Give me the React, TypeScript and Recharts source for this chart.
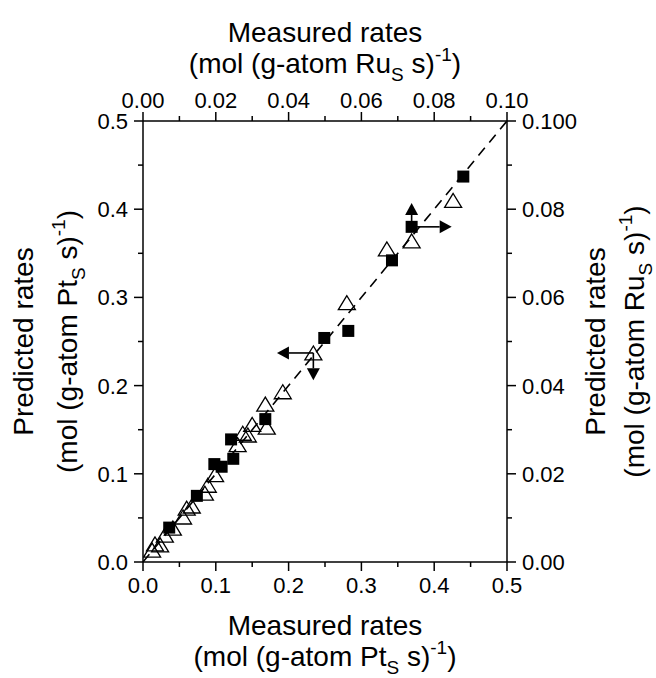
import React from "react";
import { ScatterChart, Scatter, XAxis, YAxis, ReferenceLine } from "recharts";

const W = 656;
const H = 678;
const FONT = "'Liberation Sans', Arial, Helvetica, sans-serif";

// Pt catalysts, filled squares: mol (g-atom Pt_S s)^-1
const ptMeasured = [0.036, 0.074, 0.098, 0.108, 0.124, 0.121, 0.168, 0.249, 0.282, 0.342, 0.369, 0.44];
const ptPredicted = [0.039, 0.075, 0.111, 0.108, 0.117, 0.139, 0.162, 0.254, 0.262, 0.342, 0.38, 0.437];

// Ru catalysts, open triangles: mol (g-atom Ru_S s)^-1
const ruMeasured = [
  0.0025, 0.0033, 0.0047, 0.006, 0.0082, 0.011, 0.012, 0.0134, 0.017, 0.0178, 0.0198, 0.026,
  0.0274, 0.0288, 0.03, 0.0336, 0.034, 0.0384, 0.0468, 0.056, 0.067, 0.0738, 0.0852,
];
const ruPredicted = [
  0.0027, 0.0041, 0.0039, 0.0061, 0.0077, 0.0102, 0.0122, 0.0127, 0.0156, 0.0174, 0.0198, 0.0266,
  0.0292, 0.0288, 0.0312, 0.0358, 0.0306, 0.0386, 0.0474, 0.0588, 0.071, 0.0728, 0.082,
];

// arrows marking points that fall outside the model bounds
const ptArrows = [
  { from: [0.369, 0.38], to: [0.369, 0.407] },
  { from: [0.369, 0.38], to: [0.424, 0.38] },
];
const ruArrows = [
  { from: [0.0468, 0.0474], to: [0.0368, 0.0474] },
  { from: [0.0468, 0.0474], to: [0.0468, 0.0412] },
];

// parity line y = x
const parity = [0, 0.5];

const ptMajor = [0, 0.1, 0.2, 0.3, 0.4, 0.5];
const ptMinor = [0.05, 0.15, 0.25, 0.35, 0.45];
const ptLabels = ["0.0", "0.1", "0.2", "0.3", "0.4", "0.5"];

const ruMajor = [0, 0.02, 0.04, 0.06, 0.08, 0.1];
const ruMinor = [0.01, 0.03, 0.05, 0.07, 0.09];
const ruTopLabels = ["0.00", "0.02", "0.04", "0.06", "0.08", "0.10"];
const ruRightLabels = ["0.00", "0.02", "0.04", "0.06", "0.08", "0.100"];

const ptData = ptMeasured.map((x, i) => ({ x, y: ptPredicted[i] }));
const ruData = ruMeasured.map((x, i) => ({ x, y: ruPredicted[i] }));
const ptTicks = [...ptMajor, ...ptMinor].sort((a, b) => a - b);
const ruTicks = [...ruMajor, ...ruMinor].sort((a, b) => a - b);

type Side = "bottom" | "top" | "left" | "right";

function makeTick(side: Side, majors: number[], labels: string[]) {
  return function Tick(props: any) {
    const { x, y, payload } = props;
    const idx = majors.findIndex((m) => Math.abs(m - payload.value) < 1e-9);
    const len = idx >= 0 ? 9 : 5;
    let line;
    let text = null;
    const tp = { fontFamily: FONT, fontSize: 22, fill: "#000" };
    if (side === "bottom") {
      line = <line x1={x} y1={y} x2={x} y2={y + len} stroke="#000" strokeWidth={1.5} />;
      if (idx >= 0) text = <text x={x} y={y + 31} textAnchor="middle" {...tp}>{labels[idx]}</text>;
    } else if (side === "top") {
      line = <line x1={x} y1={y} x2={x} y2={y - len} stroke="#000" strokeWidth={1.5} />;
      if (idx >= 0) text = <text x={x} y={y - 13} textAnchor="middle" {...tp}>{labels[idx]}</text>;
    } else if (side === "left") {
      line = <line x1={x} y1={y} x2={x - len} y2={y} stroke="#000" strokeWidth={1.5} />;
      if (idx >= 0) text = <text x={x - 15} y={y + 8} textAnchor="end" {...tp}>{labels[idx]}</text>;
    } else {
      line = <line x1={x} y1={y} x2={x + len} y2={y} stroke="#000" strokeWidth={1.5} />;
      if (idx >= 0) text = <text x={x + 15} y={y + 8} textAnchor="start" {...tp}>{labels[idx]}</text>;
    }
    return (
      <g>
        {line}
        {text}
      </g>
    );
  };
}

function TitleLines({ x1, y1, x2, y2, rotate, metal }: any) {
  const tp = { fontFamily: FONT, fontSize: 28, fill: "#000", textAnchor: "middle" as const };
  return (
    <g>
      <text x={x1} y={y1} transform={rotate ? `rotate(-90, ${x1}, ${y1})` : undefined} {...tp}>
        {rotate ? "Predicted rates" : "Measured rates"}
      </text>
      <text x={x2} y={y2} transform={rotate ? `rotate(-90, ${x2}, ${y2})` : undefined} {...tp}>
        {"(mol (g-atom " + metal}
        <tspan dy={8} fontSize={19}>S</tspan>
        <tspan dy={-8}>{" s)"}</tspan>
        <tspan dy={-12} fontSize={19}>-1</tspan>
        <tspan dy={12}>)</tspan>
      </text>
    </g>
  );
}

function titleFor(side: Side, metal: string) {
  return (p: any) => {
    const vb = p.viewBox;
    if (side === "bottom") {
      const cx = vb.x + vb.width / 2;
      return <TitleLines x1={cx} y1={vb.y + 73} x2={cx} y2={vb.y + 104} metal={metal} />;
    }
    if (side === "top") {
      const cx = vb.x + vb.width / 2;
      const b = vb.y + vb.height;
      return <TitleLines x1={cx} y1={b - 79} x2={cx} y2={b - 48} metal={metal} />;
    }
    const cy = vb.y + vb.height / 2;
    if (side === "left") {
      const ax = vb.x + vb.width;
      return <TitleLines rotate x1={ax - 110} y1={cy} x2={ax - 66} y2={cy} metal={metal} />;
    }
    return <TitleLines rotate x1={vb.x + 98} y1={cy} x2={vb.x + 137} y2={cy} metal={metal} />;
  };
}

function SquareMark(props: any) {
  const { cx, cy } = props;
  if (cx == null || cy == null) return null;
  return <rect x={cx - 6} y={cy - 6} width={12} height={12} fill="#000" />;
}

function TriangleMark(props: any) {
  const { cx, cy } = props;
  if (cx == null || cy == null) return null;
  return (
    <polygon
      points={`${cx},${cy - 7} ${cx - 8.5},${cy + 7} ${cx + 8.5},${cy + 7}`}
      fill="none"
      stroke="#000"
      strokeWidth={1.3}
    />
  );
}

function ArrowShape(props: any) {
  const { x1, y1, x2, y2 } = props;
  const dx = x2 - x1;
  const dy = y2 - y1;
  const len = Math.hypot(dx, dy) || 1;
  const ux = dx / len;
  const uy = dy / len;
  const head = 12;
  const half = 6.5;
  const bx = x2 - ux * head;
  const by = y2 - uy * head;
  return (
    <g>
      <line x1={x1} y1={y1} x2={bx} y2={by} stroke="#000" strokeWidth={1.6} />
      <polygon
        points={`${x2},${y2} ${bx - uy * half},${by + ux * half} ${bx + uy * half},${by - ux * half}`}
        fill="#000"
      />
    </g>
  );
}

const axisLine = { stroke: "#000", strokeWidth: 1.5 };

export default function App() {
  return (
    <div style={{ position: "fixed", left: 0, top: 0, background: "#fff" }}>
      <ScatterChart width={W} height={H} margin={{ top: 0, right: 0, bottom: 0, left: 0 }}>
        <XAxis
          xAxisId="pt"
          type="number"
          dataKey="x"
          orientation="bottom"
          domain={[0, 0.5]}
          ticks={ptTicks}
          interval={0}
          tickSize={0}
          tickMargin={0}
          tickLine={false}
          tick={makeTick("bottom", ptMajor, ptLabels)}
          axisLine={axisLine}
          height={116}
          allowDataOverflow
          label={titleFor("bottom", "Pt")}
        />
        <XAxis
          xAxisId="ru"
          type="number"
          dataKey="x"
          orientation="top"
          domain={[0, 0.1]}
          ticks={ruTicks}
          interval={0}
          tickSize={0}
          tickMargin={0}
          tickLine={false}
          tick={makeTick("top", ruMajor, ruTopLabels)}
          axisLine={axisLine}
          height={121}
          allowDataOverflow
          label={titleFor("top", "Ru")}
        />
        <YAxis
          yAxisId="pt"
          type="number"
          dataKey="y"
          orientation="left"
          domain={[0, 0.5]}
          ticks={ptTicks}
          interval={0}
          tickSize={0}
          tickMargin={0}
          tickLine={false}
          tick={makeTick("left", ptMajor, ptLabels)}
          axisLine={axisLine}
          width={143}
          allowDataOverflow
          label={titleFor("left", "Pt")}
        />
        <YAxis
          yAxisId="ru"
          type="number"
          dataKey="y"
          orientation="right"
          domain={[0, 0.1]}
          ticks={ruTicks}
          interval={0}
          tickSize={0}
          tickMargin={0}
          tickLine={false}
          tick={makeTick("right", ruMajor, ruRightLabels)}
          axisLine={axisLine}
          width={149}
          allowDataOverflow
          label={titleFor("right", "Ru")}
        />
        <ReferenceLine
          xAxisId="pt"
          yAxisId="pt"
          segment={[
            { x: parity[0], y: parity[0] },
            { x: parity[1], y: parity[1] },
          ]}
          stroke="#000"
          strokeWidth={1.6}
          strokeDasharray="10 7"
        />
        <Scatter
          xAxisId="ru"
          yAxisId="ru"
          data={ruData}
          shape={TriangleMark}
          isAnimationActive={false}
        />
        <Scatter
          xAxisId="pt"
          yAxisId="pt"
          data={ptData}
          shape={SquareMark}
          isAnimationActive={false}
        />
        {ptArrows.map((a, i) => (
          <ReferenceLine
            key={"pa" + i}
            xAxisId="pt"
            yAxisId="pt"
            segment={[
              { x: a.from[0], y: a.from[1] },
              { x: a.to[0], y: a.to[1] },
            ]}
            shape={ArrowShape}
          />
        ))}
        {ruArrows.map((a, i) => (
          <ReferenceLine
            key={"ra" + i}
            xAxisId="ru"
            yAxisId="ru"
            segment={[
              { x: a.from[0], y: a.from[1] },
              { x: a.to[0], y: a.to[1] },
            ]}
            shape={ArrowShape}
          />
        ))}
      </ScatterChart>
    </div>
  );
}
